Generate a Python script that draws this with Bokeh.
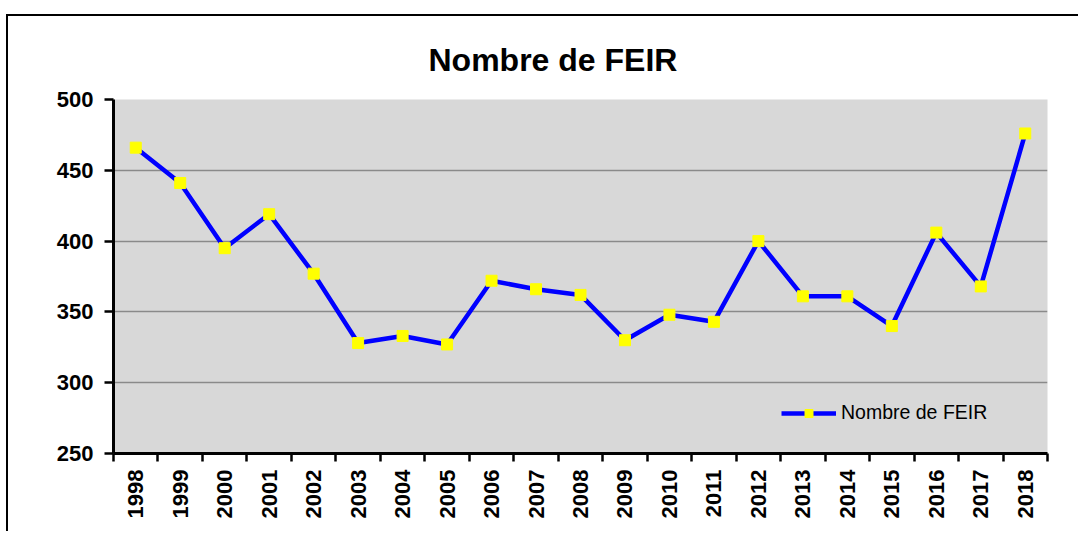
import math
from bokeh.plotting import figure
from bokeh.models import Range1d, FixedTicker, CustomJSTickFormatter, Legend, LegendItem
from bokeh.embed import file_html
from bokeh.resources import INLINE

title_text = "Nombre de FEIR"
series_name = "Nombre de FEIR"
years = ["1998", "1999", "2000", "2001", "2002", "2003", "2004", "2005", "2006", "2007",
         "2008", "2009", "2010", "2011", "2012", "2013", "2014", "2015", "2016", "2017", "2018"]
values = [466, 441, 395, 419, 377, 328, 333, 327, 372, 366,
          362, 330, 348, 343, 400, 361, 361, 340, 406, 368, 476]
y_ticks = [250, 300, 350, 400, 450, 500]

xs = [i + 0.5 for i in range(len(years))]

p = figure(width=1072, height=517, output_backend="svg", toolbar_location=None,
           x_range=Range1d(0, len(years)), y_range=Range1d(250, 500),
           min_border_left=105, min_border_right=33, min_border_top=83, min_border_bottom=80)
p.styles = {"margin-top": "14px", "margin-left": "6px",
            "border-top": "2px solid black", "border-left": "2px solid black"}

p.title.text = title_text
p.title.text_font = "Liberation Sans"
p.title.text_font_size = "32px"
p.title.text_font_style = "bold"
p.title.text_color = "black"
p.title.align = "left"
p.title.offset = 315
p.title.standoff = 44

p.background_fill_color = "#d8d8d8"
p.border_fill_color = "white"
p.outline_line_color = None

# grid
p.xgrid.visible = False
p.ygrid.ticker = FixedTicker(ticks=y_ticks)
p.ygrid.grid_line_color = "#8a8a8a"
p.ygrid.grid_line_width = 1.5

# y axis
ya = p.yaxis[0]
ya.ticker = FixedTicker(ticks=y_ticks)
ya.axis_line_width = 3
ya.axis_line_color = "black"
ya.major_tick_out = 9
ya.major_tick_in = 0
ya.major_tick_line_width = 2.5
ya.minor_tick_line_color = None
ya.major_label_text_font = "Liberation Sans"
ya.major_label_text_font_size = "22px"
ya.major_label_text_font_style = "bold"
ya.major_label_text_color = "black"
ya.major_label_standoff = 11

# x axis
xa = p.xaxis[0]
xa.ticker = FixedTicker(ticks=xs, minor_ticks=list(range(len(years) + 1)))
xa.formatter = CustomJSTickFormatter(args=dict(labels=years),
                                     code="return labels[Math.floor(tick)];")
xa.axis_line_width = 3
xa.axis_line_color = "black"
xa.major_tick_out = 0
xa.major_tick_in = 0
xa.minor_tick_out = 8
xa.minor_tick_in = 0
xa.minor_tick_line_width = 2.5
xa.minor_tick_line_color = "black"
xa.major_label_orientation = math.pi / 2
xa.major_label_text_font = "Liberation Sans"
xa.major_label_text_font_size = "22px"
xa.major_label_text_font_style = "bold"
xa.major_label_text_color = "black"
xa.major_label_standoff = 8

line = p.line(xs, values, line_color="#0000ff", line_width=4.5)
pts = p.scatter(xs, values, marker="square", size=11, fill_color="#ffff00", line_color="#ffff00")

legend = Legend(items=[LegendItem(label=series_name, renderers=[line, pts])],
                location=(668, 29), orientation="vertical")
legend.background_fill_alpha = 0
legend.border_line_color = None
legend.padding = 0
legend.margin = 0
legend.glyph_width = 55
legend.glyph_height = 20
legend.label_height = 20
legend.label_standoff = 5
legend.label_text_font = "Liberation Sans"
legend.label_text_font_size = "19.5px"
legend.label_text_color = "black"
p.add_layout(legend, "center")

open("out.html", "w").write(file_html(p, INLINE))
